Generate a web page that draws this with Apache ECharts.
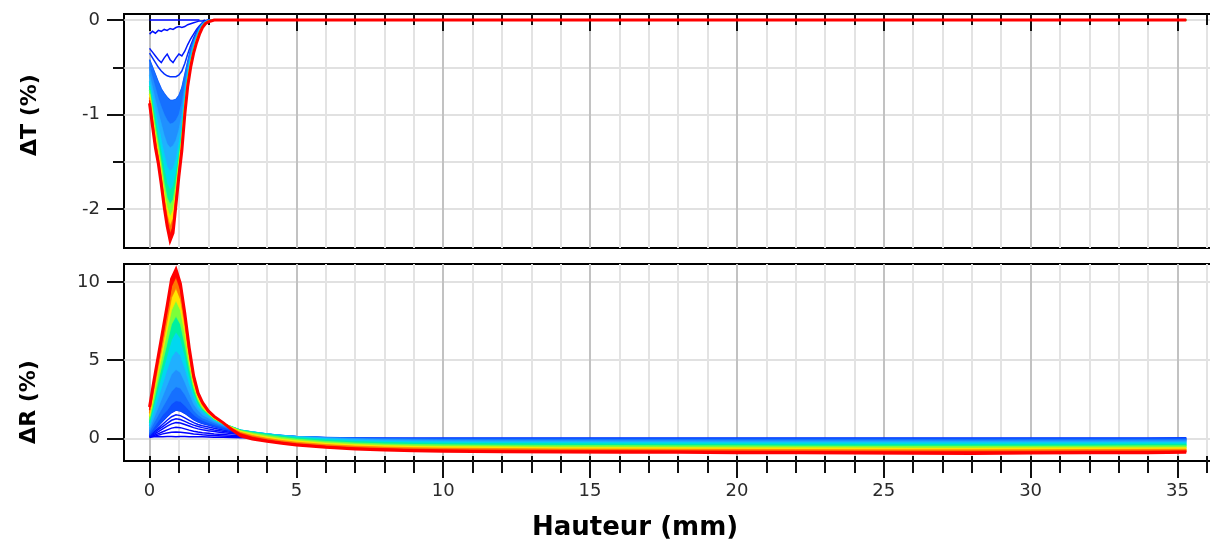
<!DOCTYPE html>
<html><head><meta charset="utf-8">
<script src="https://cdn.jsdelivr.net/npm/echarts@6/dist/echarts.min.js"></script>
<style>html,body{margin:0;padding:0;background:#fff}#c{width:1210px;height:541px}</style>
</head><body><div id="c"></div>
<script>
// ---------- DATA ----------
// Hauteur (mm) sample positions, upper panel (ΔT)
const hT = [0,0.1,0.2,0.3,0.4,0.5,0.6,0.7,0.8,0.9,1.0,1.1,1.2,1.3,1.4,1.5,1.6,1.7,1.8,1.9,2.0,2.2,35.3];
// ΔT (%) curves, outermost (red) to innermost (blue)
const dT0 = [-0.88,-1.12,-1.35,-1.52,-1.74,-1.98,-2.18,-2.33,-2.25,-1.95,-1.65,-1.38,-1.00,-0.70,-0.50,-0.35,-0.24,-0.15,-0.08,-0.04,-0.02,0,0];
const dT1 = [-0.85,-1.08,-1.30,-1.48,-1.70,-1.93,-2.12,-2.26,-2.18,-1.90,-1.61,-1.34,-0.97,-0.68,-0.48,-0.34,-0.23,-0.14,-0.08,-0.04,-0.02,0,0];
const dT2 = [-0.82,-1.04,-1.26,-1.44,-1.65,-1.88,-2.06,-2.18,-2.10,-1.85,-1.57,-1.30,-0.94,-0.66,-0.47,-0.33,-0.22,-0.14,-0.07,-0.04,-0.02,0,0];
const dT3 = [-0.78,-0.99,-1.20,-1.38,-1.59,-1.81,-1.98,-2.08,-2.01,-1.79,-1.52,-1.26,-0.91,-0.64,-0.45,-0.32,-0.21,-0.13,-0.07,-0.03,-0.01,0,0];
const dT4 = [-0.74,-0.93,-1.13,-1.31,-1.51,-1.72,-1.88,-1.95,-1.90,-1.72,-1.47,-1.22,-0.88,-0.62,-0.44,-0.31,-0.20,-0.12,-0.06,-0.03,-0.01,0,0];
const dT5 = [-0.70,-0.87,-1.05,-1.22,-1.40,-1.58,-1.73,-1.80,-1.76,-1.62,-1.40,-1.17,-0.85,-0.60,-0.42,-0.30,-0.19,-0.12,-0.06,-0.03,-0.01,0,0];
const dT6 = [-0.65,-0.80,-0.96,-1.11,-1.27,-1.42,-1.55,-1.60,-1.57,-1.47,-1.30,-1.10,-0.81,-0.57,-0.40,-0.28,-0.18,-0.11,-0.05,-0.02,-0.01,0,0];
const dT7 = [-0.58,-0.71,-0.85,-0.98,-1.10,-1.22,-1.31,-1.35,-1.33,-1.27,-1.16,-1.00,-0.75,-0.54,-0.38,-0.26,-0.17,-0.10,-0.05,-0.02,-0.01,0,0];
const dT8 = [-0.50,-0.61,-0.72,-0.83,-0.92,-1.00,-1.06,-1.10,-1.09,-1.06,-1.00,-0.88,-0.68,-0.50,-0.35,-0.24,-0.16,-0.09,-0.04,-0.02,0,0,0];
const dT9 = [-0.42,-0.50,-0.58,-0.66,-0.73,-0.78,-0.82,-0.85,-0.85,-0.84,-0.80,-0.72,-0.58,-0.44,-0.31,-0.22,-0.14,-0.08,-0.04,-0.02,0,0,0];
const dT10 = [-0.35,-0.40,-0.45,-0.50,-0.54,-0.57,-0.59,-0.60,-0.60,-0.60,-0.58,-0.54,-0.46,-0.36,-0.27,-0.19,-0.12,-0.07,-0.03,-0.01,0];
const dT11 = [-0.30,-0.34,-0.38,-0.42,-0.45,-0.40,-0.36,-0.42,-0.45,-0.40,-0.36,-0.38,-0.33,-0.26,-0.20,-0.15,-0.10,-0.06,-0.03,-0.01,0];
const dT12 = [-0.15,-0.12,-0.14,-0.11,-0.12,-0.10,-0.11,-0.09,-0.10,-0.08,-0.07,-0.08,-0.07,-0.05,-0.04,-0.03,-0.02,-0.01,-0.01,0];
const dT13 = [0,0,0,0,0,0,0,0,0,0,0,0,0,0,0,0,0,0];

// Hauteur (mm) sample positions, lower panel (ΔR)
const hR = [0,0.15,0.3,0.45,0.6,0.75,0.9,1.05,1.2,1.35,1.5,1.65,1.8,2.0,2.2,2.5,2.8,3.1,3.5,4.0,4.5,5,6,7,8,9,10,12,14,16,18,20,22,24,26,28,30,32,34,35.3];
// ΔR (%) curves, outermost (red) to innermost (blue)
const dR0 = [2.0,3.7,5.3,6.9,8.5,10.2,10.8,9.9,8.0,5.8,4.0,2.9,2.3,1.75,1.4,1.0,0.55,0.15,-0.05,-0.2,-0.32,-0.43,-0.58,-0.68,-0.75,-0.8,-0.83,-0.86,-0.88,-0.9,-0.9,-0.92,-0.93,-0.95,-0.96,-0.97,-0.95,-0.93,-0.92,-0.9];
const dR1 = [1.8,3.4,5.0,6.5,8.1,9.7,10.3,9.5,7.6,5.5,3.8,2.8,2.2,1.7,1.35,1.0,0.62,0.3,0.08,-0.1,-0.24,-0.35,-0.5,-0.6,-0.66,-0.7,-0.73,-0.76,-0.78,-0.79,-0.8,-0.81,-0.82,-0.83,-0.84,-0.85,-0.84,-0.82,-0.81,-0.8];
const dR2 = [1.6,3.1,4.6,6.0,7.5,9.0,9.6,8.9,7.2,5.2,3.6,2.7,2.1,1.65,1.3,0.98,0.66,0.38,0.18,0.0,-0.14,-0.25,-0.4,-0.5,-0.56,-0.6,-0.63,-0.66,-0.68,-0.69,-0.7,-0.71,-0.72,-0.73,-0.74,-0.74,-0.73,-0.72,-0.71,-0.7];
const dR3 = [1.4,2.8,4.2,5.5,6.9,8.2,8.8,8.2,6.7,4.9,3.4,2.55,2.0,1.6,1.27,0.96,0.7,0.45,0.28,0.1,-0.04,-0.15,-0.3,-0.4,-0.46,-0.5,-0.53,-0.55,-0.57,-0.58,-0.59,-0.6,-0.6,-0.61,-0.62,-0.62,-0.61,-0.6,-0.6,-0.59];
const dR4 = [1.2,2.4,3.7,4.9,6.1,7.3,7.8,7.3,6.0,4.5,3.2,2.4,1.9,1.55,1.24,0.94,0.72,0.5,0.35,0.2,0.06,-0.05,-0.2,-0.3,-0.36,-0.4,-0.42,-0.44,-0.46,-0.47,-0.48,-0.48,-0.49,-0.5,-0.5,-0.5,-0.5,-0.49,-0.48,-0.48];
const dR5 = [1.0,2.1,3.2,4.3,5.3,6.3,6.8,6.4,5.3,4.0,2.9,2.2,1.8,1.5,1.2,0.92,0.72,0.52,0.4,0.27,0.14,0.04,-0.1,-0.2,-0.26,-0.3,-0.32,-0.34,-0.35,-0.36,-0.37,-0.37,-0.38,-0.38,-0.39,-0.39,-0.38,-0.38,-0.37,-0.37];
const dR6 = [0.8,1.7,2.6,3.5,4.4,5.2,5.6,5.3,4.5,3.5,2.6,2.0,1.7,1.42,1.15,0.9,0.7,0.52,0.4,0.28,0.18,0.09,-0.03,-0.12,-0.18,-0.21,-0.23,-0.25,-0.26,-0.27,-0.27,-0.28,-0.28,-0.28,-0.29,-0.29,-0.28,-0.28,-0.27,-0.27];
const dR7 = [0.6,1.3,2.0,2.7,3.4,4.1,4.4,4.2,3.6,2.9,2.2,1.8,1.5,1.3,1.08,0.85,0.66,0.5,0.38,0.27,0.18,0.11,0.02,-0.06,-0.11,-0.14,-0.16,-0.17,-0.18,-0.19,-0.19,-0.2,-0.2,-0.2,-0.2,-0.21,-0.2,-0.2,-0.19,-0.19];
const dR8 = [0.45,1.0,1.5,2.0,2.5,3.0,3.3,3.2,2.8,2.3,1.8,1.5,1.3,1.15,0.98,0.78,0.6,0.46,0.35,0.25,0.17,0.11,0.04,-0.02,-0.06,-0.08,-0.1,-0.11,-0.12,-0.12,-0.12,-0.13,-0.13,-0.13,-0.13,-0.14,-0.13,-0.13,-0.12,-0.12];
const dR9 = [0.3,0.7,1.1,1.5,1.8,2.2,2.4,2.35,2.1,1.8,1.5,1.3,1.15,1.0,0.86,0.7,0.55,0.42,0.32,0.23,0.16,0.1,0.05,0.01,-0.02,-0.03,-0.04,-0.05,-0.05,-0.06,-0.06,-0.06,-0.06,-0.06,-0.07,-0.07,-0.06,-0.06,-0.06,-0.06];
const dR10 = [0.2,0.5,0.8,1.1,1.4,1.65,1.8,1.75,1.6,1.4,1.2,1.05,0.95,0.85,0.74,0.6,0.48,0.36,0.27,0.19,0.13,0.08,0.04,0.02,0.02,0.01,0.02,0.02,0.02,0.02,0.02,0.02,0.02,0.02,0.02,0.01,0.02,0.02,0.02,0.03];
const dR11 = [0.15,0.4,0.65,0.9,1.15,1.38,1.5,1.45,1.3,1.15,1.0,0.88,0.8,0.72,0.64,0.53,0.43,0.33,0.25,0.17,0.11,0.07];
const dR12 = [0.12,0.32,0.55,0.75,0.95,1.15,1.25,1.2,1.08,0.95,0.84,0.75,0.68,0.6,0.53,0.45,0.37,0.28,0.21,0.14,0.09,0.05];
const dR13 = [0.1,0.25,0.42,0.6,0.78,0.92,1.0,0.98,0.88,0.78,0.68,0.6,0.54,0.48,0.43,0.36,0.3,0.23,0.17,0.11,0.07,0.04];
const dR14 = [0.08,0.18,0.3,0.42,0.54,0.65,0.7,0.68,0.6,0.52,0.45,0.4,0.36,0.32,0.28,0.24,0.2,0.16,0.12,0.08,0.05,0.03];
const dR15 = [0.05,0.12,0.2,0.28,0.34,0.38,0.4,0.39,0.36,0.32,0.28,0.25,0.22,0.2,0.17,0.14,0.12,0.09,0.07,0.05,0.03,0.02];
const dR16 = [0.1,0.1,0.12,0.1,0.11,0.12,0.1,0.12,0.11,0.1,0.1,0.09,0.09,0.08,0.07,0.06,0.05,0.04,0.03,0.02,0.02,0.01];

// Tick values
const xMajorTicks = [0,5,10,15,20,25,30,35];
const xMinorTicks = [0,1,2,3,4,5,6,7,8,9,10,11,12,13,14,15,16,17,18,19,20,21,22,23,24,25,26,27,28,29,30,31,32,33,34,35,36];
const yTopMajor = [-2,-1,0];
const yTopMinor = [-2,-1.5,-1,-0.5,0];
const yBotMajor = [0,5,10];

// ---------- STYLE ----------
const ramp = ['#ff0000','#ff7800','#ffe600','#7cff3a','#00f0a0','#00d8f0','#20b0ff','#2090ff','#1670ff','#0c50ff','#0530ff','#0018ff','#0010ff','#0008ff','#0000ff','#0000ff','#0000ff'];
const X_MIN = -0.87, X_MAX = 36.45;
const LIGHT = '#e3e3e3', DARK = '#c2c2c2', HGRID = '#d7d7d7', INK = '#111';
const FONT = '"DejaVu Sans", sans-serif';

function xAxisDef(gridIndex, position, ticks, len, inside, splitColor, showLabels) {
  return {
    type: 'value', gridIndex, position, min: X_MIN, max: X_MAX,
    axisLine: {show: false, onZero: false},
    axisTick: {show: true, customValues: ticks, length: len, inside, lineStyle: {color: INK, width: 2}},
    axisLabel: showLabels ? {show: true, customValues: ticks, margin: 21, fontFamily: FONT, fontSize: 18, color: '#2a2a2a'} : {show: false},
    splitLine: splitColor ? {show: true, lineStyle: {color: splitColor, width: 2}} : {show: false},
    minorTick: {show: false}, minorSplitLine: {show: false}
  };
}
function yAxisDef(gridIndex, min, max, ticks, len, showLabels, split) {
  return {
    type: 'value', gridIndex, position: 'left', min, max,
    axisLine: {show: false, onZero: false},
    axisTick: {show: true, customValues: ticks, length: len, inside: false, lineStyle: {color: INK, width: 2}},
    axisLabel: showLabels ? {show: true, customValues: ticks, margin: 24, fontFamily: FONT, fontSize: 18, color: '#2a2a2a'} : {show: false},
    splitLine: split ? {show: true, lineStyle: {color: HGRID, width: 1.5}} : {show: false},
    minorTick: {show: false}, minorSplitLine: {show: false}
  };
}

// single curve, positioned through the axes with api.coord
function curve(xs, ys, color, xi, yi, w) {
  return {
    type: 'custom', xAxisIndex: xi, yAxisIndex: yi, silent: true, animation: false, clip: true,
    data: [[xs[0], ys[0]]],
    renderItem: function (params, api) {
      const pts = ys.map((v, k) => api.coord([xs[k], v]));
      return {type: 'polyline', shape: {points: pts}, style: {fill: null, stroke: color, lineWidth: w}};
    }
  };
}
// filled band between two neighbouring curves
function band(xs, outer, inner, color, xi, yi, w) {
  return {
    type: 'custom', xAxisIndex: xi, yAxisIndex: yi, silent: true, animation: false, clip: true,
    data: [[xs[0], outer[0]]],
    renderItem: function (params, api) {
      const up = outer.map((v, k) => api.coord([xs[k], v]));
      const dn = inner.map((v, k) => api.coord([xs[k], v])).reverse();
      return {type: 'group', children: [
        {type: 'polygon', shape: {points: up.concat(dn)}, style: {fill: color, stroke: color, lineWidth: 0.6}},
        {type: 'polyline', shape: {points: up}, style: {fill: null, stroke: color, lineWidth: w}}
      ]};
    }
  };
}

const topCurves = [dT0,dT1,dT2,dT3,dT4,dT5,dT6,dT7,dT8,dT9,dT10,dT11,dT12,dT13];
const botCurves = [dR0,dR1,dR2,dR3,dR4,dR5,dR6,dR7,dR8,dR9,dR10,dR11,dR12,dR13,dR14,dR15,dR16];

const series = [];
for (let i = topCurves.length - 1; i >= 9; i--) series.push(curve(hT, topCurves[i], ramp[i], 0, 0, 1.5));
for (let i = 8; i >= 0; i--) series.push(band(hT, topCurves[i], topCurves[i + 1], ramp[i], 0, 0, i === 0 ? 3 : 1.5));
for (let i = botCurves.length - 1; i >= 10; i--) series.push(curve(hR, botCurves[i], ramp[i], 2, 2, 1.5));
for (let i = 9; i >= 0; i--) series.push(band(hR, botCurves[i], botCurves[i + 1], ramp[i], 2, 2, i === 0 ? 3 : 1.5));

const chart = echarts.init(document.getElementById('c'), null, {renderer: 'canvas', width: 1210, height: 541});
chart.setOption({
  animation: false,
  backgroundColor: '#fff',
  grid: [
    {left: 124, top: 14, width: 1096, height: 234, show: true, borderColor: '#000', borderWidth: 2, backgroundColor: 'transparent', containLabel: false, outerBoundsMode: 'none'},
    {left: 124, top: 264, width: 1096, height: 197, show: true, borderColor: '#000', borderWidth: 2, backgroundColor: 'transparent', containLabel: false, outerBoundsMode: 'none'}
  ],
  xAxis: [
    xAxisDef(0, 'top', xMinorTicks, 11, true, LIGHT, false),
    xAxisDef(0, 'top', xMajorTicks, 17, true, DARK, false),
    xAxisDef(1, 'bottom', xMinorTicks, 12, false, LIGHT, false),
    xAxisDef(1, 'bottom', xMajorTicks, 17, false, DARK, true),
    xAxisDef(1, 'bottom', xMinorTicks, 5, true, null, false)
  ],
  yAxis: [
    yAxisDef(0, -2.41, 0.063, yTopMinor, 11, false, true),
    yAxisDef(0, -2.41, 0.063, yTopMajor, 17, true, false),
    yAxisDef(1, -1.455, 11.15, yBotMajor, 17, true, true)
  ],
  series,
  graphic: [
    {type: 'text', x: 30, y: 115, rotation: Math.PI / 2, silent: true,
      style: {text: 'ΔT (%)', font: 'bold 22px "DejaVu Sans", sans-serif', fill: '#000', align: 'center', verticalAlign: 'middle', textAlign: 'center', textVerticalAlign: 'middle'}},
    {type: 'text', x: 29, y: 402, rotation: Math.PI / 2, silent: true,
      style: {text: 'ΔR (%)', font: 'bold 22px "DejaVu Sans", sans-serif', fill: '#000', align: 'center', verticalAlign: 'middle', textAlign: 'center', textVerticalAlign: 'middle'}},
    {type: 'text', x: 635, y: 528, silent: true,
      style: {text: 'Hauteur (mm)', font: 'bold 26px "DejaVu Sans", sans-serif', fill: '#000', align: 'center', verticalAlign: 'middle', textAlign: 'center', textVerticalAlign: 'middle'}}
  ]
});
</script>
</body></html>
